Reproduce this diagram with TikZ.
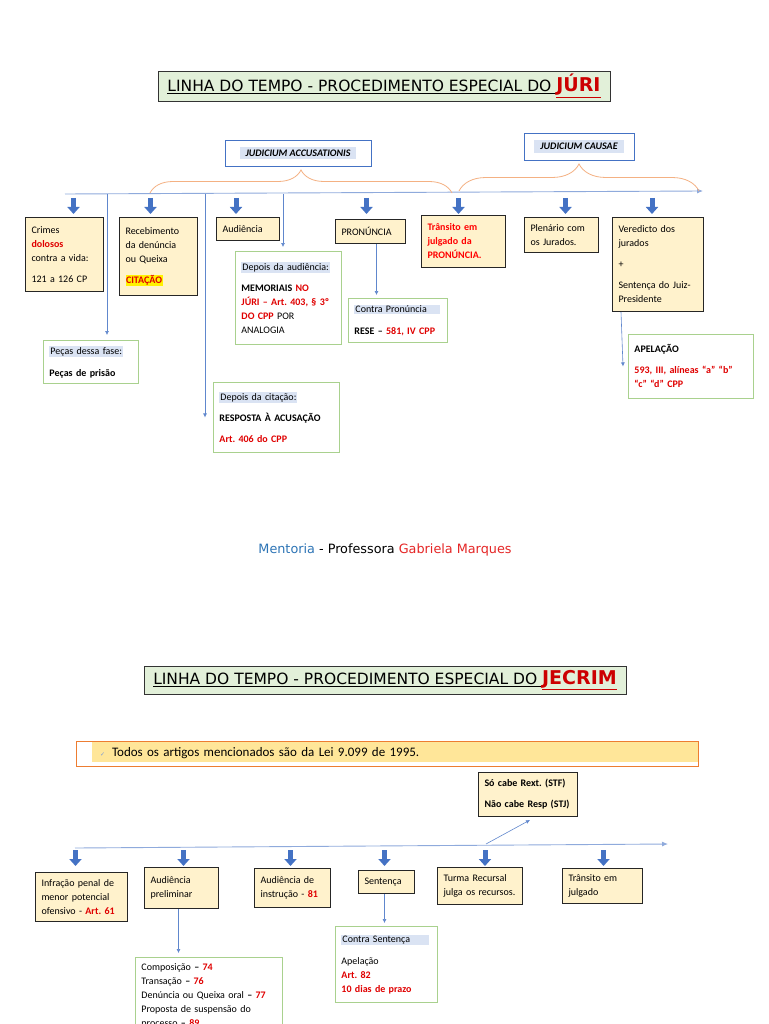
\documentclass[tikz,border=0pt]{standalone}
\usepackage{fontspec}
\setmainfont{Carlito}
\newfontfamily\titulo{DejaVu Sans}
\usepackage{xcolor}
\usetikzlibrary{positioning, shapes, arrows.meta, calc, decorations.pathreplacing}
\frenchspacing

\definecolor{amarelo}{HTML}{FFF2CC}
\definecolor{verdeborda}{HTML}{A9D18E}
\definecolor{azulseta}{HTML}{4472C4}
\definecolor{azullinha}{HTML}{8FAADC}
\definecolor{azulrealce}{HTML}{DAE3F3}
\definecolor{laranja}{HTML}{F4B183}
\definecolor{laranjaforte}{HTML}{ED7D31}
\definecolor{notafundo}{HTML}{FFE699}
\definecolor{verdetitulo}{HTML}{E2F0D9}
\definecolor{vermelho}{HTML}{E00000}
\definecolor{vermelhotitulo}{HTML}{CC0000}
\definecolor{azulmentoria}{HTML}{2E75B6}

\newcommand{\dest}[1]{\textcolor{vermelho}{\textbf{#1}}}
\newcommand{\realce}[1]{{\setlength{\fboxsep}{1pt}\colorbox{azulrealce}{#1}}}
\newcommand{\faixa}[1]{{\setlength{\fboxsep}{3pt}\colorbox{azulrealce}{\hspace{3pt}#1\hspace{3pt}}}}

\begin{document}
\begin{tikzpicture}[x=1pt, y=-1pt,
  every node/.style={font=\fontsize{10}{14}\selectfont, align=left, inner xsep=6pt, inner ysep=3pt},
  fase/.style={rectangle, draw=black!85, line width=1pt, fill=amarelo, anchor=north west},
  obs/.style={rectangle, draw=verdeborda, line width=0.9pt, fill=white, anchor=north west},
  juizo/.style={rectangle, draw=azulseta, line width=0.8pt, fill=white, align=center, font=\fontsize{10}{12}\selectfont\bfseries\itshape, inner sep=3pt},
  titulobox/.style={rectangle, draw=black!80, line width=0.8pt, fill=verdetitulo, align=center, inner xsep=2pt, inner ysep=0pt},
  nota/.style={rectangle, draw=laranjaforte, line width=1pt, inner xsep=24pt, inner ysep=2pt,
    font=\fontsize{13}{15}\selectfont,
    path picture={\fill[notafundo] ([xshift=16pt]path picture bounding box.north west) rectangle ([yshift=4pt]path picture bounding box.south east);}},
  bloco/.style={draw=azulseta, line width=5pt, -{Triangle[width=12pt,length=7pt]}},
  conector/.style={draw=azulseta!85, line width=0.6pt, -{Latex[length=4pt,width=4pt]}},
  linha/.style={draw=azullinha, line width=0.9pt, -{Latex[length=6pt,width=5pt]}},
  chave/.style={draw=laranja, line width=0.8pt, decorate, decoration={brace, amplitude=#1}},
]
\useasboundingbox (0,0) rectangle (768,1024);
\fill[white] (0,0) rectangle (768,1024);
\clip (0,0) rectangle (768,1024);

% Juri: title and the two phases
\node[titulobox, minimum width=452, minimum height=30] (titulo1) at (384,86) {\titulo\fontsize{15.5}{18}\selectfont\underline{LINHA DO TEMPO - PROCEDIMENTO ESPECIAL DO }{\color{vermelhotitulo}\bfseries\fontsize{19}{20}\selectfont\underline{JÚRI}}};
\node[juizo, minimum width=146, minimum height=26] (accusationis) at (298,153) {\faixa{JUDICIUM ACCUSATIONIS}};
\node[juizo, minimum width=110, minimum height=27] (causae) at (579,146.5) {\faixa{JUDICIUM CAUSAE}};

% timeline and braces
\coordinate (t1ini) at (65,194);
\coordinate (t1fim) at (703,191);
\draw[linha] (t1ini) -- (t1fim);
\coordinate (c1a) at (150,193);
\coordinate (c1b) at (452,193);
\coordinate (c2a) at (459,191);
\coordinate (c2b) at (699,191);
\draw[chave=23] (c1a) -- (c1b);
\draw[chave=27] (c2a) -- (c2b);

% Fases (yellow)
\node[fase, text width=66, minimum height=74] (crimes) at (25,217) {Crimes\\ \dest{dolosos}\\ contra a vida:\\[7pt] 121 a 126 CP};
\node[fase, text width=66, minimum height=78] (receb) at (119,217) {Recebimento\\ da denúncia\\ ou Queixa\\[7pt] {\setlength{\fboxsep}{0.5pt}\colorbox{yellow}{\dest{CITAÇÃO}}}};
\node[fase, text width=51, minimum height=23] (audiencia) at (216,217) {Audiência};
\node[fase, text width=58, minimum height=24] (pronuncia) at (335,219) {PRONÚNCIA};
\node[fase, text width=72, minimum height=52] (transito) at (421,215) {{\color{red}\bfseries Trânsito em\\ julgado da\\ PRONÚNCIA.}};
\node[fase, text width=62, minimum height=35] (plenario) at (524,217) {Plenário com\\ os Jurados.};
\node[fase, text width=79, minimum height=94] (veredicto) at (612,217) {Veredicto dos\\ jurados\\[7pt] +\\[7pt] Sentença do Juiz-\\ Presidente};

\foreach \b/\dx in {crimes/9, receb/-8, audiencia/-12, pronuncia/-4, transito/-5, plenario/4, veredicto/-6}
  \draw[bloco] ([xshift=\dx]\b.north |- t1ini) ++(0,4) -- ++(0,16);

% Observacoes (green)
\node[obs, text width=94, minimum height=93] (depaud) at (235,251) {\realce{Depois da audiência:}\\[7pt] \textbf{MEMORIAIS} \dest{NO}\\ \dest{JÚRI – Art. 403, § 3º}\\ \dest{DO CPP} POR\\ ANALOGIA};
\node[obs, text width=83, minimum height=43] (pecas) at (43,340) {\realce{Peças dessa fase:}\\[8pt] \textbf{Peças de prisão}};
\node[obs, text width=114, minimum height=70] (citacao) at (213,382) {\realce{Depois da citação:}\\[7pt] \textbf{RESPOSTA À ACUSAÇÃO}\\[7pt] \dest{Art. 406 do CPP}};
\node[obs, text width=87, minimum height=44] (contrapron) at (348,298) {\realce{\makebox[84pt][l]{Contra Pronúncia}}\\[8pt] \textbf{RESE –} \dest{581, IV CPP}};
\node[obs, text width=113, minimum height=64] (apelacao) at (628,334) {\textbf{APELAÇÃO}\\[7pt] \dest{593, III, alíneas “a” “b”}\\ \dest{“c” “d” CPP}};

\coordinate (r1) at (107,194);
\coordinate (r2) at (205,194);
\coordinate (r3) at (283,194);
\draw[conector, shorten >=5pt] (r1) -- (r1 |- pecas.north);
\draw[conector] (r2) -- (r2 |- citacao.west);
\draw[conector, shorten >=4pt] (r3) -- (r3 |- depaud.north);
\draw[conector, shorten >=3pt] ([xshift=6]pronuncia.south) -- ([xshift=6]pronuncia.south |- contrapron.north);
\draw[conector] ([xshift=9]veredicto.south west) -- ([xshift=-5]apelacao.west);

\node[font=\titulo\fontsize{12.8}{15}\selectfont] (rodape) at (385,550) {\textcolor{azulmentoria}{Mentoria} - Professora \textcolor{vermelho!85}{Gabriela Marques}};

% JECRIM
\node[titulobox, minimum width=482, minimum height=28] (titulo2) at (385,680) {\titulo\fontsize{15.5}{18}\selectfont\underline{LINHA DO TEMPO - PROCEDIMENTO ESPECIAL DO }{\color{vermelhotitulo}\bfseries\fontsize{19}{20}\selectfont\underline{JECRIM}}};
\node[nota, text width=574, minimum height=25] (aviso) at (387,753.5) {{\titulo\fontsize{6}{6}\selectfont\color{azulseta!70}✓}\hspace{7pt}Todos os artigos mencionados são da Lei 9.099 de 1995.};

\node[fase, text width=87, minimum height=44] (socabe) at (478,772) {\textbf{Só cabe Rext. (STF)}\\[7pt] \textbf{Não cabe Resp (STJ)}};

\coordinate (t2ini) at (75,848);
\coordinate (t2fim) at (668,844);
\draw[linha] (t2ini) -- (t2fim);

\node[fase, text width=80, minimum height=49] (infracao) at (35,872) {Infração penal de\\ menor potencial\\ ofensivo - \dest{Art. 61}};
\node[fase, text width=62, minimum height=41] (audprel) at (144,867) {Audiência\\ preliminar};
\node[fase, text width=64, minimum height=39] (audinst) at (254,868) {Audiência de\\ instrução - \dest{81}};
\node[fase, text width=44, minimum height=23] (sentenca) at (358,870) {Sentença};
\node[fase, text width=73, minimum height=37] (turma) at (437,867) {Turma Recursal\\ julga os recursos.};
\node[fase, text width=68, minimum height=35] (transjul) at (562,868) {Trânsito em\\ julgado};

\foreach \b/\dx in {infracao/-6, audprel/2, audinst/-2, sentenca/-2, turma/5, transjul/1}
  \draw[bloco] ([xshift=\dx]\b.north |- t2ini) ++(0,2) -- ++(0,16);

\node[obs, text width=135, inner ysep=6pt] (composicao) at (135,957) {Composição \textbf{–} \dest{74}\\ Transação \textbf{–} \dest{76}\\ Denúncia ou Queixa oral \textbf{–} \dest{77}\\ Proposta de suspensão do\\ processo \textbf{–} \dest{89}\\ ~};
\node[obs, text width=90, minimum height=76] (contrasent) at (335,926) {\realce{\makebox[86pt][l]{Contra Sentença}}\\[8pt] Apelação\\ \dest{Art. 82}\\ \dest{10 dias de prazo}};

\coordinate (r4) at (486,844);
\draw[conector] (r4) -- ([xshift=2pt, yshift=-3pt]socabe.south);
\draw[conector, shorten >=4pt] ([xshift=-3]audprel.south) -- ([xshift=-3]audprel.south |- composicao.north);
\draw[conector, shorten >=3pt] ([xshift=-2]sentenca.south) -- ([xshift=-2]sentenca.south |- contrasent.north);

\end{tikzpicture}
\end{document}
